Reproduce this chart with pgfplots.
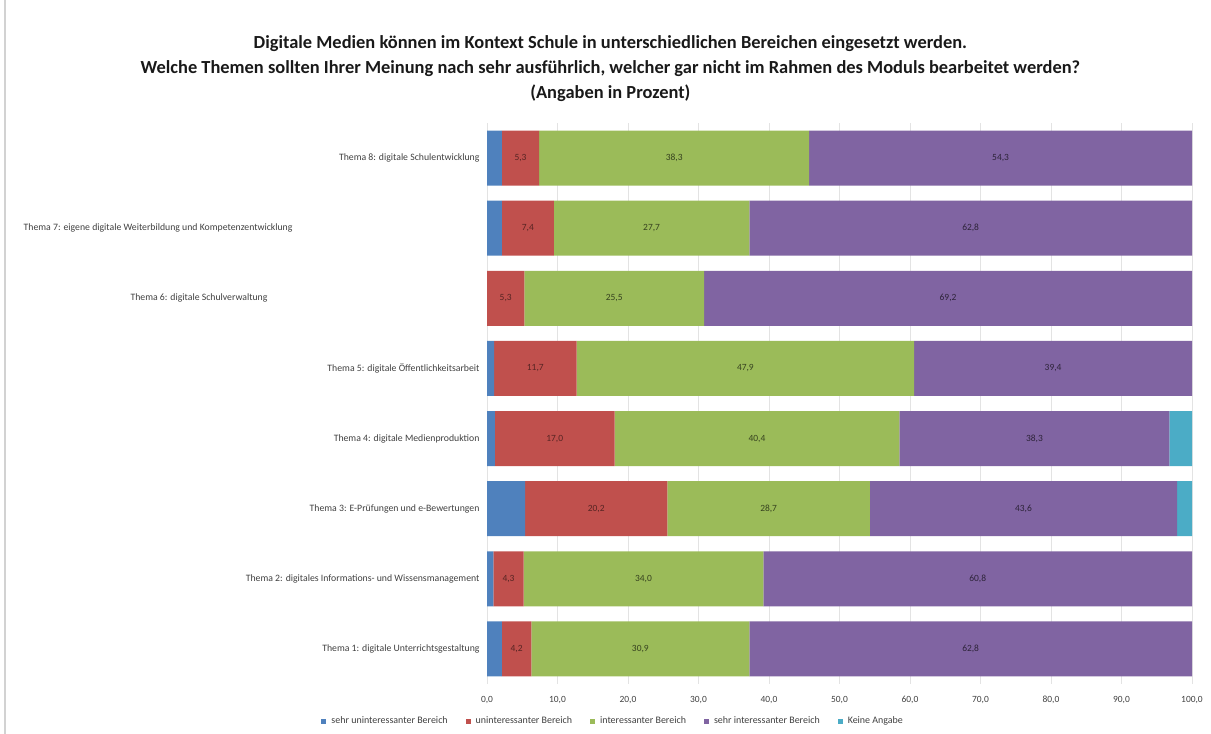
\documentclass[border=0pt]{standalone}
\usepackage{pgfplots}
\pgfplotsset{compat=1.18}
\usepackage{pgfplotstable}
\usepackage{fontspec}
\setmainfont{Carlito}
\definecolor{cblue}{HTML}{4F81BD}
\definecolor{cred}{HTML}{C0504D}
\definecolor{cgreen}{HTML}{9BBB59}
\definecolor{cpurple}{HTML}{8064A2}
\definecolor{ccyan}{HTML}{4BACC6}
\pgfplotstableread{
y blue red green purple cyan
1 2.1 4.2 30.9 62.8 0
2 0.9 4.3 34.0 60.8 0
3 5.4 20.2 28.7 43.6 2.1
4 1.1 17.0 40.4 38.3 3.2
5 1.0 11.7 47.9 39.4 0
6 0 5.3 25.5 69.2 0
7 2.1 7.4 27.7 62.8 0
8 2.1 5.3 38.3 54.3 0
}\data
\begin{document}
\begin{tikzpicture}
\useasboundingbox (0bp,0bp) rectangle (1211bp,734bp);
\draw[gray!35, line width=1.5bp] (5bp,0bp) -- (5bp,734bp);
\begin{axis}[
  at={(487bp,50bp)}, anchor=south west,
  scale only axis, width=705bp, height=561bp,
  xbar stacked, bar width=55bp,
  xmin=0, xmax=100, ymin=0.5, ymax=8.5,
  xtick={0,10,...,100},
  ytick={1,...,8},
  yticklabels={
    Thema 1: digitale Unterrichtsgestaltung,
    Thema 2: digitales Informations- und Wissensmanagement,
    Thema 3: E-Prüfungen und e-Bewertungen,
    Thema 4: digitale Medienproduktion,
    Thema 5: digitale Öffentlichkeitsarbeit,
    Thema 6: digitale Schulverwaltung\hspace*{212bp},
    Thema 7: eigene digitale Weiterbildung und Kompetenzentwicklung\hspace*{187bp},
    Thema 8: digitale Schulentwicklung},
  major tick length=0pt,
  xmajorgrids, grid style={gray!22, line width=0.6bp},
  axis line style={draw=none},
  /pgf/number format/assume math mode=true,
  xticklabel={\pgfmathprintnumber[fixed,fixed zerofill,precision=1,use comma]{\tick}},
  xticklabel style={font=\fontsize{9.5}{11}\selectfont, text=black!75},
  yticklabel style={font=\fontsize{9.8}{11}\selectfont, text=black!75},
  xticklabel shift=9bp,
  yticklabel shift=4bp,
  title={Digitale Medien können im Kontext Schule in unterschiedlichen Bereichen eingesetzt werden.\\Welche Themen sollten Ihrer Meinung nach sehr ausführlich, welcher gar nicht im Rahmen des Moduls bearbeitet werden?\\(Angaben in Prozent)},
  title style={at={(0.175,1.086)}, anchor=center, align=center, font=\bfseries\fontsize{18.5}{25}\selectfont, text=black!90},
  legend columns=5,
  legend style={at={(0.179,-0.066)}, anchor=center, draw=none, fill=none,
    font=\fontsize{10}{11}\selectfont, text=black!75,
    /tikz/every odd column/.append style={column sep=3bp},
    /tikz/every even column/.append style={column sep=16bp}},
  legend image code/.code={\fill[#1] (0bp,-2.5bp) rectangle (5bp,2.5bp);},
  every node near coord/.append style={font=\fontsize{9.5}{11}\selectfont},
]
\addplot[fill=cblue, draw=none] table[x=blue, y=y]{\data};
\addplot[fill=cred, draw=none, point meta=explicit, nodes near coords={\pgfmathprintnumber[fixed,fixed zerofill,precision=1,use comma]{\pgfplotspointmeta}}, every node near coord/.append style={text=cred!45!black}] table[x=red, y=y, meta=red]{\data};
\addplot[fill=cgreen, draw=none, point meta=explicit, nodes near coords={\pgfmathprintnumber[fixed,fixed zerofill,precision=1,use comma]{\pgfplotspointmeta}}, every node near coord/.append style={text=cgreen!35!black}] table[x=green, y=y, meta=green]{\data};
\addplot[fill=cpurple, draw=none, point meta=explicit, nodes near coords={\pgfmathprintnumber[fixed,fixed zerofill,precision=1,use comma]{\pgfplotspointmeta}}, every node near coord/.append style={text=cpurple!35!black}] table[x=purple, y=y, meta=purple]{\data};
\addplot[fill=ccyan, draw=none] table[x=cyan, y=y]{\data};
\legend{sehr uninteressanter Bereich, uninteressanter Bereich, interessanter Bereich, sehr interessanter Bereich, Keine Angabe}
\end{axis}
\end{tikzpicture}
\end{document}
